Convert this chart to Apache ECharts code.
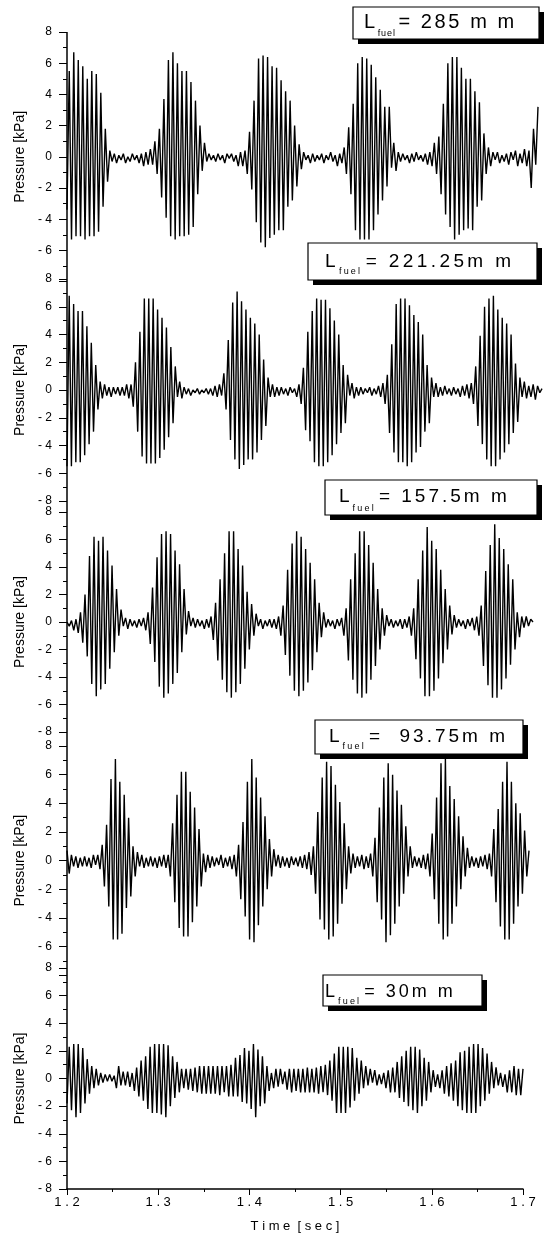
<!DOCTYPE html>
<html><head><meta charset="utf-8">
<script src="https://cdn.jsdelivr.net/npm/echarts@6/dist/echarts.min.js"></script>
<style>html,body{margin:0;padding:0;background:#fff}#c{width:547px;height:1234px}</style>
</head><body><div id="c"></div>
<script>
// ---- data ----
const timeRange = [1.2, 1.7];
const yTickValues = [-8, -6, -4, -2, 0, 2, 4, 6, 8];
const xTickValues = [1.2, 1.3, 1.4, 1.5, 1.6, 1.7];
const fuelLabels = ['= 285 m m', '= 221.25m m', '= 157.5m m', '=  93.75m m', '= 30m m'];

// pressure extremes [kPa], uniformly sampled over the time range
const p285 = [
-3.4,5.5,-5.3,6.7,-5.1,6.2,-5.1,5.8,-5.3,5.0,-5.1,5.5,-5.1,5.3,-4.8,4.1,-3.2,1.8,-1.6,0.4,
-0.3,0.2,-0.4,0.1,-0.2,0.2,-0.4,0.0,-0.3,0.2,-0.2,0.1,-0.4,0.2,-0.6,0.3,-0.5,0.5,
-0.5,1.0,-1.1,1.8,-2.6,3.7,-3.9,6.2,-5.1,6.7,-5.3,6.0,-5.1,5.5,-5.1,5.5,-5.0,4.8,-4.5,3.6,-2.4,2.0,-0.9,0.9,
-0.3,0.2,-0.2,0.1,-0.3,0.2,-0.2,0.1,-0.4,0.2,-0.1,0.2,-0.3,0.1,-0.6,0.3,-0.6,
0.4,-1.1,1.6,-2.1,3.6,-4.2,6.3,-5.5,6.5,-5.8,6.4,-5.2,5.8,-5.0,5.7,-4.7,4.9,-4.7,4.2,-3.2,3.6,-2.8,2.0,-1.9,0.8,-0.8,
0.3,-0.2,0.1,-0.4,0.2,-0.3,0.1,-0.2,0.2,-0.4,0.1,-0.2,0.3,-0.3,0.1,-0.6,0.2,-0.4,0.6,
-1.1,1.9,-2.4,3.4,-4.7,6.0,-5.3,6.4,-5.3,6.3,-5.3,5.9,-4.7,5.1,-3.7,4.3,-2.8,3.2,-1.9,3.2,-0.7,0.9,-0.9,0.3,
-0.3,0.2,-0.2,0.1,-0.4,0.2,-0.3,0.3,-0.2,0.1,-0.3,0.2,-0.5,0.3,-0.6,0.9,
-1.1,1.3,-2.4,3.4,-3.7,6.0,-4.5,6.4,-5.3,6.4,-5.0,5.7,-4.7,5.0,-4.6,5.0,-4.7,4.2,-3.2,3.5,-2.8,1.5,-1.1,0.6,-0.6,0.3,
-0.2,0.3,-0.4,0.1,-0.3,0.2,-0.5,0.3,-0.2,0.4,-0.6,0.2,-0.4,0.5,-0.6,
0.4,-2.0,1.8,-0.5,3.2
];
const p221 = [
-5.5,6.8,-5.5,6.2,-5.2,5.7,-5.2,5.7,-4.7,4.6,-3.9,3.4,-3.0,1.8,-1.4,0.6,-0.6,0.4,
-0.4,0.2,-0.5,0.2,-0.3,0.2,-0.4,0.2,-0.4,0.4,-0.6,
0.4,-1.2,2.0,-3.0,4.2,-4.8,6.6,-5.3,6.6,-5.3,6.6,-5.3,5.8,-4.9,5.2,-4.3,4.5,-3.4,3.1,-2.4,1.7,-0.5,0.6,
-0.6,0.2,-0.3,0.1,-0.4,0.0,-0.2,0.1,-0.3,0.0,-0.2,0.1,-0.3,0.1,-0.4,0.3,-0.5,0.4,
-0.4,1.2,-1.4,3.6,-3.6,6.3,-5.0,7.1,-5.7,6.4,-5.4,5.8,-5.0,5.2,-5.0,4.8,-4.5,4.0,-3.6,2.2,-2.6,0.9,-0.5,
0.4,-0.5,0.2,-0.4,0.2,-0.3,0.1,-0.4,0.2,-0.2,0.1,-0.5,0.4,
-1.0,1.6,-2.9,4.2,-3.7,5.7,-5.2,6.6,-5.5,6.5,-5.5,6.5,-5.2,5.9,-4.7,5.0,-3.9,4.0,-3.1,1.8,-2.4,1.1,-0.4,0.5,
-0.6,0.2,-0.4,0.2,-0.3,0.1,-0.2,0.2,-0.4,0.1,-0.3,0.3,-0.5,0.5,
-1.0,1.1,-3.1,3.3,-4.5,6.2,-5.2,6.6,-5.2,6.6,-5.5,6.1,-5.2,5.4,-4.5,4.9,-4.1,4.0,-3.0,1.8,-2.4,0.9,-0.5,
0.5,-0.5,0.2,-0.4,0.3,-0.3,0.1,-0.4,0.2,-0.3,0.1,-0.5,0.3,-0.4,0.4,-0.6,0.5,
-1.0,1.7,-2.6,3.9,-3.9,6.0,-5.0,6.6,-5.5,6.8,-5.5,5.8,-5.0,5.2,-4.5,4.8,-3.9,4.0,-3.1,1.9,-2.3,0.9,-0.5,
0.6,-0.6,0.3,-0.5,0.4,-0.7,0.3,-0.2,0.1
];
const p157 = [
0.0,-0.3,0.1,-0.6,0.2,-0.8,
0.7,-1.5,2.0,-2.5,4.8,-4.5,6.2,-5.4,5.9,-4.9,6.2,-4.5,5.2,-3.4,4.1,-2.2,2.4,-1.0,0.9,-0.3,
0.3,-0.5,0.2,-0.3,0.1,-0.4,0.2,-0.3,0.3,-0.6,
0.7,-1.6,2.5,-2.9,4.7,-4.7,6.4,-5.5,6.6,-5.2,6.4,-4.5,5.2,-3.7,4.2,-2.2,2.4,-0.9,0.8,-0.3,
0.3,-0.4,0.2,-0.3,0.1,-0.5,0.2,-0.4,0.4,
-1.3,1.4,-2.8,3.1,-4.2,5.0,-5.1,6.6,-5.5,6.6,-5.1,5.3,-4.5,4.1,-3.4,2.2,-2.0,1.3,-1.0,0.6,
-0.3,0.2,-0.5,0.1,-0.3,0.2,-0.4,0.2,-0.5,0.4,
-1.0,1.2,-2.4,3.8,-3.9,5.7,-5.0,6.6,-5.4,6.2,-5.0,5.3,-4.4,4.3,-3.5,3.1,-2.2,1.4,-1.1,0.7,
-0.4,0.2,-0.3,0.1,-0.5,0.2,-0.3,0.3,
-1.0,1.0,-2.8,3.1,-4.2,5.0,-5.2,6.6,-5.5,6.6,-5.2,5.6,-4.2,4.3,-3.2,2.4,-2.0,1.0,-1.0,0.5,
-0.3,0.2,-0.4,0.1,-0.3,0.2,-0.5,0.2,-0.4,0.4,
-1.0,1.0,-2.7,3.1,-4.1,5.2,-5.4,6.9,-5.4,5.9,-5.0,5.3,-4.1,3.8,-3.0,2.4,-2.0,1.2,-0.9,0.5,
-0.4,0.2,-0.3,0.1,-0.5,0.2,-0.3,0.3,-0.6,0.4,
-1.0,1.2,-3.2,3.7,-4.6,5.6,-5.5,7.1,-5.5,6.1,-4.9,5.3,-4.1,4.2,-3.1,3.1,-2.0,0.7,-1.1,0.4,
-0.4,0.4,-0.3,0.2,0.0
];
const p93 = [
0.7,-0.9,0.4,-0.4,0.3,-0.5,0.2,-0.4,0.3,-0.4,0.2,-0.5,0.4,-0.3,0.4,
-0.6,1.1,-1.8,2.5,-3.2,5.7,-5.5,7.1,-5.5,5.5,-5.1,4.6,-3.3,3.0,-2.5,1.0,-1.1,0.6,-0.4,
0.4,-0.5,0.2,-0.4,0.3,-0.4,0.2,-0.5,0.3,-0.4,0.4,-0.5,0.4,
-1.1,2.6,-2.9,4.6,-4.7,6.2,-5.3,6.2,-5.3,4.8,-4.3,3.7,-3.2,2.2,-1.8,0.5,-0.8,0.4,
-0.5,0.3,-0.4,0.2,-0.3,0.4,-0.5,0.2,-0.4,0.3,-0.6,0.4,
-1.1,1.1,-2.7,2.7,-3.9,5.5,-5.5,7.1,-5.7,5.8,-4.5,4.4,-3.2,3.1,-2.0,1.5,-1.1,0.8,-0.4,0.4,
-0.5,0.3,-0.4,0.2,-0.5,0.3,-0.3,0.2,-0.4,0.3,-0.5,0.4,-0.6,0.6,
-1.0,1.0,-2.3,3.4,-4.1,5.8,-4.8,6.9,-5.5,6.6,-5.3,5.3,-4.4,4.1,-3.0,2.6,-2.0,1.0,-0.9,0.5,
-0.5,0.3,-0.4,0.4,-0.6,0.3,-0.5,
0.5,-1.1,1.6,-2.9,3.7,-4.1,5.8,-5.7,6.8,-5.2,6.0,-4.4,4.9,-3.2,3.9,-2.3,2.4,-1.1,1.0,-0.5,
0.3,-0.4,0.2,-0.5,0.4,-0.6,
0.5,-1.1,1.9,-2.7,4.4,-4.4,6.8,-5.5,7.1,-5.3,5.2,-4.4,4.3,-3.2,3.1,-2.0,1.7,-1.1,0.9,-0.5,
0.3,-0.4,0.2,-0.5,0.3,-0.4,0.4,-0.6,
0.5,-1.1,2.2,-2.9,3.6,-4.6,5.5,-5.5,6.9,-5.5,5.5,-4.4,4.0,-3.2,3.3,-2.3,2.1,-1.1,0.7
];
const p30 = [
-1.8,2.3,-2.3,2.5,-2.8,2.5,-2.5,2.2,-1.8,1.4,-1.1,0.9,-0.7,0.7,-0.5,0.4,-0.3,0.3,-0.2,0.3,
-0.2,0.2,-0.7,0.9,-0.5,0.5,-0.5,0.5,-0.6,0.4,-0.9,0.8,-1.3,1.3,-1.6,1.6,-2.2,2.3,
-2.5,2.5,-2.5,2.5,-2.6,2.5,-2.8,2.4,-2.0,1.6,-1.4,1.2,-1.0,0.7,-0.7,0.7,-0.8,0.7,-0.9,0.8,
-1.0,0.9,-1.1,0.9,-1.1,0.9,-1.1,0.9,-1.1,0.9,-1.2,0.9,-1.0,0.9,-1.3,1.0,-1.3,1.5,-1.3,
1.7,-1.7,2.2,-1.8,2.0,-2.2,2.5,-2.8,2.1,-2.0,1.6,-1.8,0.9,-0.9,0.4,-0.7,0.7,-0.6,0.7,-0.4,0.5,-0.8,
0.7,-1.0,0.7,-0.9,0.7,-1.0,0.7,-1.0,0.8,-1.0,0.7,-1.0,0.8,-1.1,0.9,-1.0,1.0,-1.2,1.3,
-1.6,1.8,-2.5,2.3,-2.5,2.3,-2.5,2.3,-2.1,2.2,-1.6,1.5,-1.1,1.3,-0.7,0.9,-0.5,0.7,-0.3,0.6,-0.5,0.3,
-0.4,0.4,-0.7,0.6,-1.0,0.8,-1.0,1.2,
-1.4,1.6,-1.7,2.0,-2.0,2.3,-2.3,2.3,-2.5,2.1,-2.0,1.5,-1.6,1.2,-1.0,0.6,-0.6,0.3,-0.7,0.6,-1.1,0.9,-1.3,1.1,-1.6,1.3,
-2.0,1.9,-2.3,2.0,-2.5,2.3,-2.5,2.5,-2.5,2.5,-2.0,2.2,-1.6,1.8,-1.1,1.2,-0.7,0.8,-0.5,0.4,-0.6,0.3,-1.0,0.6,-1.0,0.9,-1.2,0.7,-1.2,0.7
];
const panels = [p285, p221, p157, p93, p30];

// ---- layout (pixels) ----
const FONT = '"Liberation Sans", Arial, sans-serif';
const AXIS_X = 67;
const layout = [
  {top: 32,  h: 249.6, right: 538, hideMin: true},
  {top: 279, h: 222,   right: 542, hideMin: false},
  {top: 512, h: 220,   right: 533, hideMin: false},
  {top: 746, h: 229.3, right: 529, hideMin: true},
  {top: 968, h: 221,   right: 523, hideMin: false}
];
const boxLayout = [
  {bx: 353, by: 7,   bw: 186, bh: 32, lx: 364, base: 29,   sub: 37,   fs: 20, ls: 2.6, sls: 0.9},
  {bx: 308, by: 243, bw: 229, bh: 37, lx: 325, base: 268,  sub: 275,  fs: 19, ls: 3.4, sls: 2.2},
  {bx: 325, by: 480, bw: 212, bh: 35, lx: 339, base: 503,  sub: 512,  fs: 19, ls: 3.0, sls: 2.2},
  {bx: 315, by: 720, bw: 208, bh: 34, lx: 329, base: 743,  sub: 750,  fs: 19, ls: 3.0, sls: 2.2},
  {bx: 323, by: 975, bw: 159, bh: 31, lx: 325, base: 998,  sub: 1005, fs: 18, ls: 3.0, sls: 2.2}
];

const mctx = document.createElement('canvas').getContext('2d');
function tw(t, size) { mctx.font = size + 'px ' + FONT; return mctx.measureText(t).width; }
function spacedText(txt, x, baseline, size, ls, out) {
  for (const ch of txt) {
    if (ch !== ' ') {
      out.push({type: 'text', z: 5, style: {text: ch, x: x, y: baseline - 0.3465 * size,
        font: size + 'px ' + FONT, fill: '#000', align: 'left', verticalAlign: 'middle',
        textAlign: 'left', textVerticalAlign: 'middle'}});
    }
    x += tw(ch, size) + ls;
  }
  return x;
}

const graphics = [];
// continuous left axis line
graphics.push({type: 'line', z: 3, shape: {x1: AXIS_X, y1: layout[0].top, x2: AXIS_X, y2: layout[4].top + layout[4].h},
  style: {stroke: '#000', lineWidth: 1.5}});
boxLayout.forEach((b, i) => {
  graphics.push({type: 'rect', z: 0, shape: {x: b.bx + 5, y: b.by + 5, width: b.bw, height: b.bh}, style: {fill: '#000'}});
  graphics.push({type: 'rect', z: 1, shape: {x: b.bx, y: b.by, width: b.bw, height: b.bh}, style: {fill: '#fff', stroke: '#000', lineWidth: 1.2}});
  let x = spacedText('L', b.lx, b.base, b.fs, 0, graphics);
  x = spacedText('fuel', x + b.ls, b.sub, 9, b.sls, graphics);
  spacedText(fuelLabels[i], x + b.ls, b.base, b.fs, b.ls, graphics);
});

const n = layout.length;
const option = {
  animation: false,
  backgroundColor: '#fff',
  textStyle: {fontFamily: FONT, color: '#000'},
  grid: layout.map(g => ({left: AXIS_X, top: g.top, width: g.right - AXIS_X, height: g.h, containLabel: false, outerBoundsMode: 'none'})),
  xAxis: layout.map((g, i) => {
    const last = i === n - 1;
    return {
      gridIndex: i, type: 'value', min: xTickValues[0], max: xTickValues[xTickValues.length - 1], interval: 0.1,
      show: last, position: 'bottom',
      axisLine: {show: last, onZero: false, lineStyle: {color: '#000', width: 1.5}},
      axisTick: {show: last, inside: false, length: 6, lineStyle: {color: '#000', width: 1}},
      minorTick: {show: last, splitNumber: 2, length: 3, lineStyle: {color: '#000', width: 1}},
      splitLine: {show: false},
      axisLabel: {show: last, color: '#000', fontSize: 13, fontFamily: FONT, margin: 7,
        showMinLabel: true, showMaxLabel: true,
        formatter: v => v.toFixed(1).split('').join(' ')},
      name: last ? 'T i m e  [ s e c ]' : '', nameLocation: 'middle', nameGap: 31,
      nameTextStyle: {color: '#000', fontSize: 13, fontFamily: FONT}
    };
  }),
  yAxis: layout.map((g, i) => ({
    gridIndex: i, type: 'value', min: yTickValues[0], max: yTickValues[yTickValues.length - 1], interval: 2,
    axisLine: {show: false, onZero: false},
    axisTick: {show: true, inside: false, length: 8, lineStyle: {color: '#000', width: 1}},
    minorTick: {show: true, splitNumber: 2, length: 4, lineStyle: {color: '#000', width: 1}},
    splitLine: {show: false},
    axisLabel: {color: '#000', fontSize: 12, fontFamily: FONT, margin: 15, showMinLabel: true, showMaxLabel: true,
      formatter: v => (g.hideMin && v === yTickValues[0]) ? '' : (v < 0 ? '- ' + (-v) : String(v))},
    name: 'Pressure [kPa]', nameLocation: 'middle', nameGap: 34,
    nameTextStyle: {color: '#000', fontSize: 14, fontFamily: FONT}
  })),
  series: panels.map((vals, i) => ({
    type: 'line', xAxisIndex: i, yAxisIndex: i, showSymbol: false, symbol: 'none', silent: true, z: 4,
    lineStyle: {color: '#000', width: 1.4}, clip: false,
    data: vals.map((v, k) => [timeRange[0] + k * (timeRange[1] - timeRange[0]) / (vals.length - 1), v])
  })),
  graphic: {elements: graphics}
};
const chart = echarts.init(document.getElementById('c'), null, {renderer: 'canvas', width: 547, height: 1234});
chart.setOption(option);
</script>
</body></html>
